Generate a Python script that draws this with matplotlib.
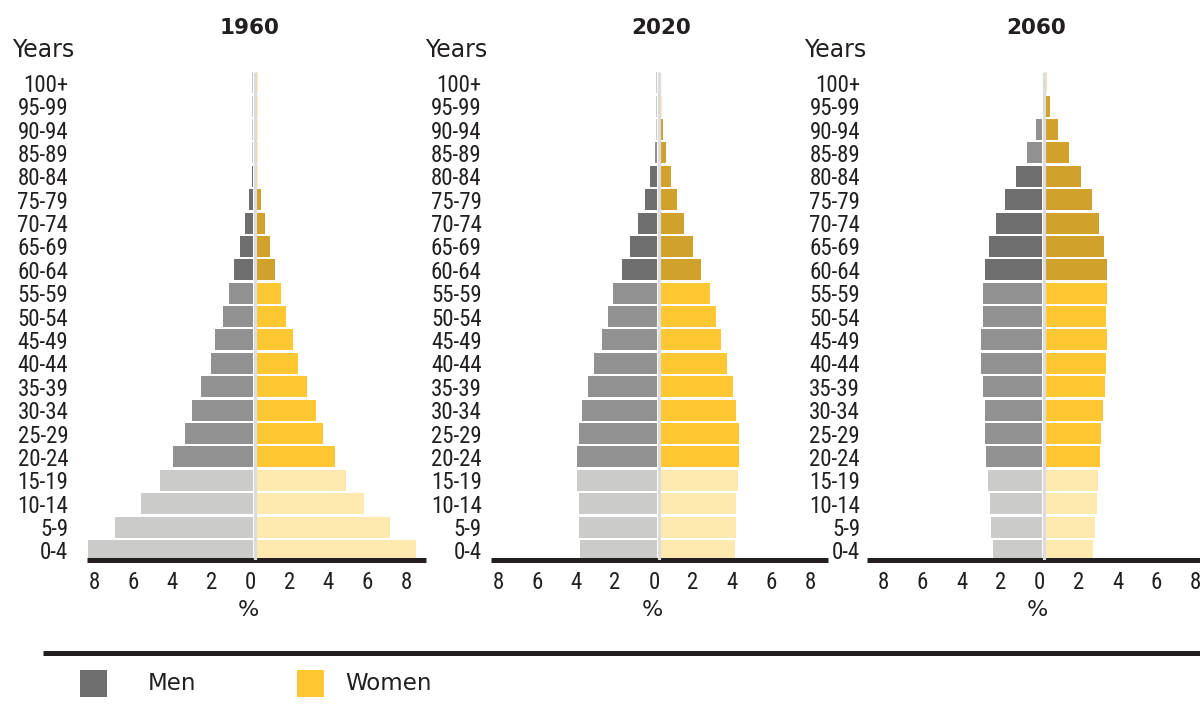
import matplotlib
matplotlib.use("Agg")
import matplotlib.pyplot as plt
from matplotlib import font_manager
from matplotlib.patches import Rectangle
from matplotlib.lines import Line2D
import numpy as np

# ---------------- data ----------------
age_groups = ['0-4', '5-9', '10-14', '15-19', '20-24', '25-29', '30-34', '35-39',
              '40-44', '45-49', '50-54', '55-59', '60-64', '65-69', '70-74',
              '75-79', '80-84', '85-89', '90-94', '95-99', '100+']
years = ['1960', '2020', '2060']

men_1960 = [8.45, 7.10, 5.75, 4.75, 4.10, 3.50, 3.15, 2.65, 2.15, 1.95, 1.55,
            1.25, 1.00, 0.65, 0.40, 0.20, 0.06, 0.04, 0.04, 0.04, 0.04]
women_1960 = [8.15, 6.80, 5.50, 4.55, 4.00, 3.40, 3.05, 2.55, 2.10, 1.85, 1.50,
              1.25, 0.95, 0.65, 0.40, 0.20, 0.06, 0.06, 0.06, 0.06, 0.06]

men_2020 = [3.93, 3.99, 3.99, 4.09, 4.10, 4.00, 3.82, 3.51, 3.22, 2.82, 2.52,
            2.23, 1.78, 1.37, 0.96, 0.60, 0.35, 0.10, 0.04, 0.03, 0.03]
women_2020 = [3.81, 3.86, 3.86, 3.97, 4.02, 4.02, 3.86, 3.71, 3.40, 3.10, 2.84,
              2.53, 2.07, 1.66, 1.20, 0.84, 0.53, 0.27, 0.12, 0.06, 0.04]

men_2060 = [2.53, 2.63, 2.69, 2.79, 2.87, 2.96, 2.96, 3.06, 3.16, 3.16, 3.06,
            3.06, 2.94, 2.74, 2.38, 1.92, 1.35, 0.79, 0.31, 0.04, 0.04]
women_2060 = [2.40, 2.50, 2.60, 2.65, 2.76, 2.81, 2.91, 3.01, 3.06, 3.12, 3.06,
              3.12, 3.12, 2.96, 2.70, 2.35, 1.78, 1.17, 0.60, 0.19, 0.03]

x_ticks = [-8, -6, -4, -2, 0, 2, 4, 6, 8]

# ---------------- style ----------------
men_colors = {'y': '#cbcbca', 'w': '#919191', 'o': '#6d6e6d'}
women_colors = {'y': '#fee9ae', 'w': '#ffc832', 'o': '#d0a22b'}
# colour group of each bar (young / working / old shading), per panel
men_groups = ['yyyywwwwwwwwooooo' + 'yyyy',
              'yyyywwwwwwwwooooo' + 'wyyy',
              'yyyywwwwwwwwooooo' + 'wwyy']
women_groups = ['yyyywwwwwwwwoooo' + 'yyyyy',
                'yyyywwwwwwwwooooooo' + 'yy',
                'yyyywwwwwwwwoooooooo' + 'y']

TEXT = '#231f20'
names = {f.name for f in font_manager.fontManager.ttflist}
narrow = 'DejaVu Sans'
for cand in ['Liberation Sans Narrow', 'DejaVu Sans Condensed', 'Roboto Condensed', 'Liberation Sans']:
    if cand in names:
        narrow = cand
        break
main_font = 'DejaVu Sans'

W, H = 1200, 708
fig = plt.figure(figsize=(W / 100, H / 100), dpi=100)

def fx(px):
    return px / W

def fy(py):
    return 1 - py / H

PXU = 19.5  # pixels per percentage unit
panels = [
    dict(center=255.0, xlim=(-8.6, 8.75), ypad=13.7, years_right=74, title_x=250, pct_x=248),
    dict(center=658.7, xlim=(-8.6, 8.7), ypad=6.7, years_right=487, title_x=661.5, pct_x=652),
    dict(center=1044.3, xlim=(-9.1, 8.7), ypad=4.9, years_right=866, title_x=1036.5, pct_x=1037),
]
men_all = [men_1960, men_2020, men_2060]
women_all = [women_1960, women_2020, women_2060]

top_px, bot_px = 65, 560
ylim = (-0.41, 20.76)
gap = 0.1
ypos = np.arange(len(age_groups))

for i, p in enumerate(panels):
    left_px = p['center'] + p['xlim'][0] * PXU
    right_px = p['center'] + p['xlim'][1] * PXU
    ax = fig.add_axes([fx(left_px), fy(bot_px), (right_px - left_px) / W, (bot_px - top_px) / H])
    men = np.array(men_all[i])
    women = np.array(women_all[i])
    mc = [men_colors[g] for g in men_groups[i]]
    wc = [women_colors[g] for g in women_groups[i]]
    ax.barh(ypos, -men, left=-gap, height=0.9, color=mc, linewidth=0)
    ax.barh(ypos, women, left=gap, height=0.9, color=wc, linewidth=0)
    ax.vlines(0, -0.45, 20.45, color='#dcdcdc', linewidth=2.3, zorder=3)
    ax.set_xlim(*p['xlim'])
    ax.set_ylim(*ylim)
    for s in ['top', 'right', 'left']:
        ax.spines[s].set_visible(False)
    ax.spines['bottom'].set_linewidth(3.6)
    ax.spines['bottom'].set_color(TEXT)
    ax.spines['bottom'].set_capstyle('butt')
    ax.set_xticks(np.array(x_ticks) - 0.24)
    ax.set_xticklabels([str(abs(t)) for t in x_ticks])
    ax.set_yticks(ypos)
    ax.set_yticklabels(age_groups)
    ax.tick_params(axis='x', length=0, pad=8, labelsize=16.5, labelcolor=TEXT)
    ax.tick_params(axis='y', length=0, pad=p['ypad'], labelsize=16.5, labelcolor=TEXT)
    for lab in ax.get_xticklabels() + ax.get_yticklabels():
        lab.set_fontfamily(narrow)
    ax.patch.set_alpha(0)
    # titles and labels
    fig.text(fx(p['title_x']), fy(28.5), years[i], ha='center', va='center',
             fontsize=15.5, fontweight='bold', color=TEXT, family=main_font)
    fig.text(fx(p['years_right']), fy(50), 'Years', ha='right', va='center',
             fontsize=17, color=TEXT, family=main_font)
    fig.text(fx(p['pct_x']), fy(610.5), '%', ha='center', va='center',
             fontsize=16, color=TEXT, family=main_font)

# separator line
fig.add_artist(Line2D([fx(43), fx(1200)], [fy(653), fy(653)], color=TEXT, linewidth=3.6,
                      solid_capstyle='butt'))

# legend
legend_items = [('Men', men_colors['o'], 80, 148), ('Women', women_colors['w'], 297, 345)]
for label, col, sq_x, tx in legend_items:
    fig.add_artist(Rectangle((fx(sq_x), fy(697)), 27 / W, 27 / H, transform=fig.transFigure,
                             facecolor=col, edgecolor='none'))
    fig.text(fx(tx), fy(683.5), label, ha='left', va='center', fontsize=16.5,
             color=TEXT, family=main_font)

fig.savefig('out.png', dpi=100)
